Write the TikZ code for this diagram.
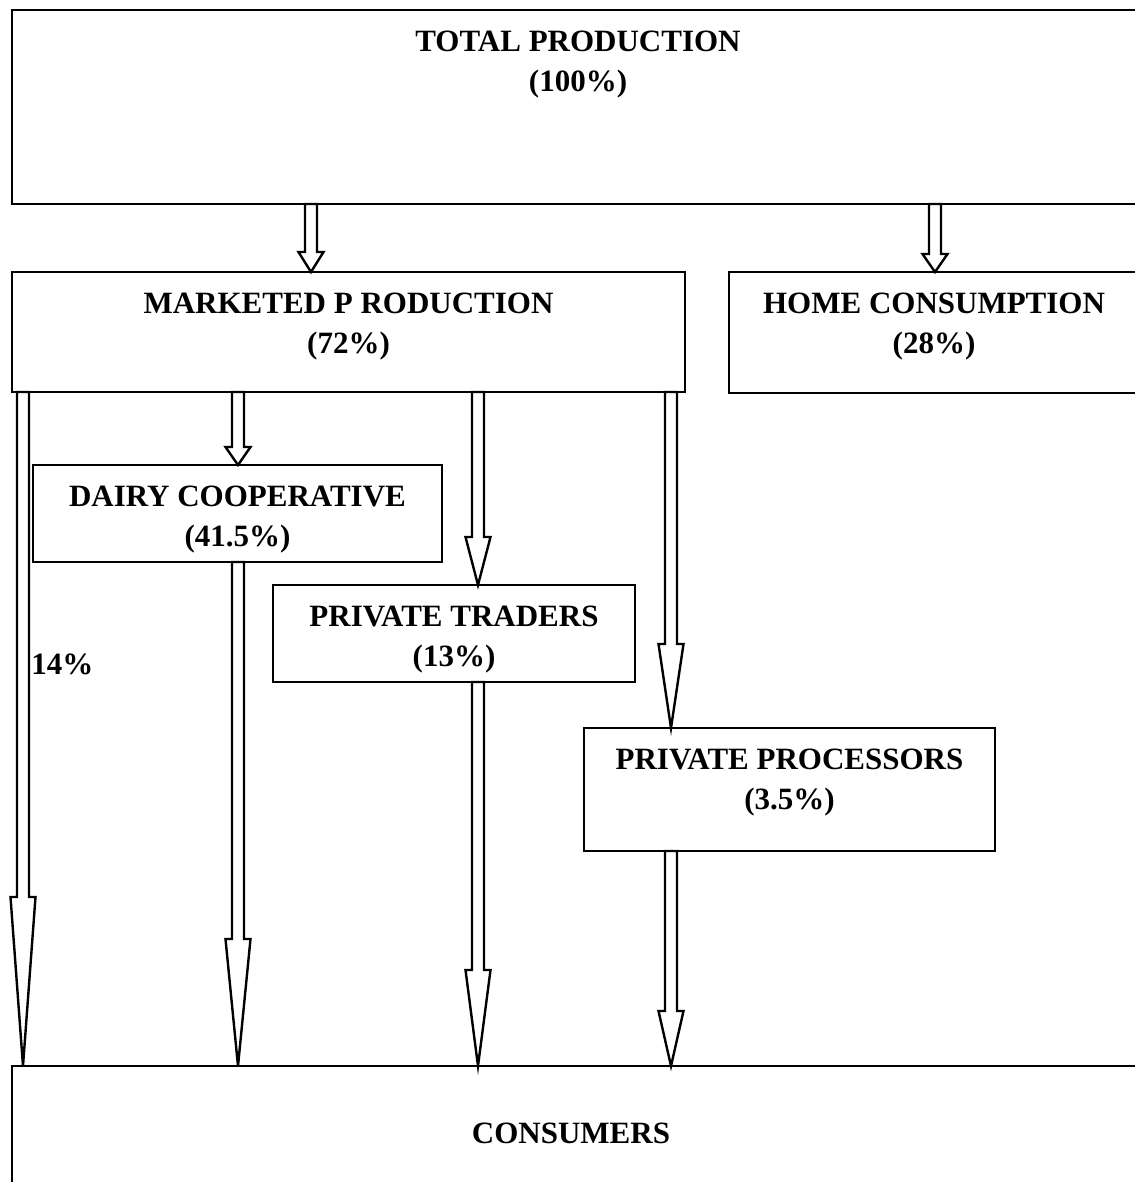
\documentclass[tikz,border=0pt]{standalone}
\usepackage{fontspec}
\setmainfont{Liberation Serif}
\usepackage{tikz}
\usetikzlibrary{calc,positioning}

\newcommand{\flowarrow}[3]{%
  \draw[flow] let \p1=(#1), \p2=(#2) in
    (\x1-3pt,\y1) -- (\x1-3pt,\y2+#3) -- (\x1-6.25pt,\y2+#3) -- (\x1,\y2)
    -- (\x1+6.25pt,\y2+#3) -- (\x1+3pt,\y2+#3) -- (\x1+3pt,\y1) -- cycle;}

\begin{document}
\begin{tikzpicture}[x=0.5pt,y=-0.5pt,
    box/.style={draw,line width=1.4pt,outer sep=0pt,inner sep=0pt,anchor=north west},
    lbl/.style={align=center,inner sep=0pt,font=\fontsize{15.5}{20}\selectfont\bfseries},
    flow/.style={draw,line width=1.2pt,fill=white,line join=miter}]
    \useasboundingbox (0,0) rectangle (1134,1182);
    \node[box,minimum width=570pt,minimum height=97pt] (top) at (12,10) {};
    \node[box,minimum width=336.5pt,minimum height=60pt] (mkt) at (12,272) {};
    \node[box,minimum width=205pt,minimum height=60.5pt] (home) at (729,272) {};
    \node[box,minimum width=204.5pt,minimum height=48.5pt] (dairy) at (33,465) {};
    \node[box,minimum width=181pt,minimum height=48.5pt] (traders) at (273,585) {};
    \node[box,minimum width=205.5pt,minimum height=61.5pt] (proc) at (584,728) {};
    \node[box,minimum width=570pt,minimum height=100pt] (cons) at (12,1066) {};
    \node[lbl,anchor=north] (toplbl) at (578,31) {TOTAL PRODUCTION\\(100\%)};
    \node[lbl,below=10.5pt of mkt.north] (mktlbl) {MARKETED P RODUCTION\\(72\%)};
    \node[lbl,below=10.5pt of home.north] (homelbl) {HOME CONSUMPTION\\(28\%)};
    \node[lbl,below=10.5pt of dairy.north] (dairylbl) {DAIRY COOPERATIVE\\(41.5\%)};
    \node[lbl,below=10.5pt of traders.north] (traderslbl) {PRIVATE TRADERS\\(13\%)};
    \node[lbl,below=10.5pt of proc.north] (proclbl) {PRIVATE PROCESSORS\\(3.5\%)};
    \node[lbl] (conslbl) at (571,1133) {CONSUMERS};
    \coordinate (c1) at (23,0);
    \coordinate (c2) at (311,0);
    \coordinate (c3) at (238,0);
    \coordinate (c4) at (478,0);
    \coordinate (c5) at (671,0);
    \coordinate (c6) at (935,0);
    \flowarrow{top.south -| c2}{mkt.north -| c2}{10pt}
    \flowarrow{top.south -| c6}{home.north -| c6}{9pt}
    \flowarrow{mkt.south -| c1}{cons.north -| c1}{84.5pt}
    \flowarrow{mkt.south -| c3}{dairy.north -| c3}{9pt}
    \flowarrow{dairy.south -| c3}{cons.north -| c3}{63.5pt}
    \flowarrow{mkt.south -| c4}{traders.north -| c4}{24pt}
    \flowarrow{traders.south -| c4}{cons.north -| c4}{48pt}
    \flowarrow{mkt.south -| c5}{proc.north -| c5}{42pt}
    \flowarrow{proc.south -| c5}{cons.north -| c5}{27.5pt}
    \node[lbl,anchor=west] (pct) at (31,664) {14\%};
\end{tikzpicture}
\end{document}
